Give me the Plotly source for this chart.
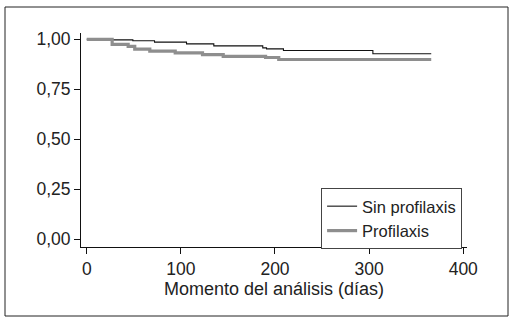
import plotly.graph_objects as go

# Kaplan-Meier style step data (days, survival)
sin_days = [0, 27, 49, 72, 106, 135, 187, 191, 209, 304, 366]
sin_surv = [1.0, 0.997, 0.993, 0.986, 0.977, 0.967, 0.957, 0.952, 0.944, 0.928, 0.928]

pro_days = [0, 27, 44, 51, 67, 94, 123, 145, 190, 204, 366]
pro_surv = [1.0, 0.975, 0.965, 0.951, 0.941, 0.932, 0.923, 0.915, 0.909, 0.899, 0.899]

x_ticks = [0, 100, 200, 300, 400]
y_ticks = [0.0, 0.25, 0.5, 0.75, 1.0]
y_labels = ["0,00", "0,25", "0,50", "0,75", "1,00"]

font = "Liberation Sans, Arial, sans-serif"

fig = go.Figure()
fig.add_trace(go.Scatter(x=sin_days, y=sin_surv, mode="lines", name="Sin profilaxis",
                         line=dict(color="#111111", width=1.1, shape="hv")))
fig.add_trace(go.Scatter(x=pro_days, y=pro_surv, mode="lines", name="Profilaxis",
                         line=dict(color="#8e8e8e", width=3.2, shape="hv")))

fig.update_layout(
    width=517, height=323,
    margin=dict(l=81, r=50, t=33, b=76),
    paper_bgcolor="white", plot_bgcolor="white",
    font=dict(family=font, size=17, color="#222222"),
    showlegend=True,
    legend=dict(x=0.622, y=0.276, xanchor="left", yanchor="top",
                bordercolor="#444444", borderwidth=1, bgcolor="white",
                font=dict(size=16.5), tracegroupgap=0),
    xaxis=dict(range=[-6.1, 404], tickvals=x_ticks, ticktext=[str(v) for v in x_ticks],
               showline=True, linecolor="#111111", linewidth=1,
               ticks="outside", ticklen=6, tickcolor="#111111",
               showgrid=False, zeroline=False, automargin=False,
               tickfont=dict(size=17.5),
               title=dict(text="Momento del análisis (días)", standoff=2,
                          font=dict(size=18))),
    yaxis=dict(range=[-0.0385, 1.0315], tickvals=y_ticks, ticktext=y_labels,
               showline=True, linecolor="#111111", linewidth=1,
               ticks="outside", ticklen=6, tickcolor="#111111",
               showgrid=False, zeroline=False, automargin=False,
               tickfont=dict(size=17.5)),
    shapes=[dict(type="rect", xref="paper", yref="paper",
                 x0=-76/386, x1=(508-81)/386, y0=-(316-247)/214, y1=(247-7)/214,
                 line=dict(color="#222222", width=1))],
)

fig.write_html("out.html", config={"displayModeBar": False},
               post_script="document.body.style.margin='0';document.body.style.padding='0';")
